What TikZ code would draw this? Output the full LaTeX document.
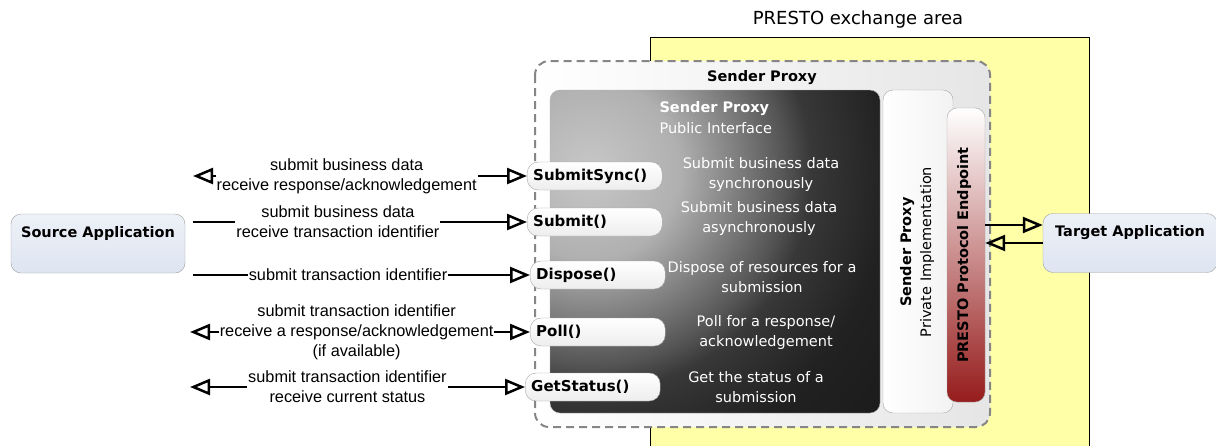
\documentclass[tikz,border=0pt]{standalone}
\usepackage{fontspec}
\setmainfont{DejaVu Sans}
\newfontfamily\arialfont{Liberation Sans}
\usetikzlibrary{arrows.meta,positioning}
\definecolor{exchyellow}{RGB}{255,255,168}
\definecolor{appblue}{RGB}{222,229,241}
\definecolor{endred}{RGB}{150,28,28}
\definecolor{endpink}{RGB}{238,208,208}
\pgfdeclareradialshading{panelglow}{\pgfpoint{0bp}{0bp}}{color(0bp)=(black!22);color(5.6bp)=(black!31);color(9.7bp)=(black!53);color(12.2bp)=(black!67);color(13.8bp)=(black!78);color(18.7bp)=(black!87);color(25.5bp)=(black!90);color(50bp)=(black!90)}
\begin{document}
\begin{tikzpicture}[x=1pt,y=-1pt,
  lbl/.style={font=\arialfont\fontsize{16.3}{20}\selectfont,fill=white,inner xsep=1pt,inner ysep=1pt,align=center},
  pill/.style={draw=gray!70,rounded corners=11pt,top color=white,bottom color=gray!14,minimum height=28pt,minimum width=135pt,text width=123pt,inner xsep=6pt,align=left,anchor=west,font=\bfseries\fontsize{15}{17}\selectfont},
  desc/.style={text=white,align=center,font=\fontsize{14.5}{20}\selectfont},
  appbox/.style={draw=gray!75,rounded corners=10pt,top color=appblue!55,bottom color=appblue,minimum width=174pt,minimum height=59pt,inner ysep=8pt,text height=15pt,text depth=28pt,font=\bfseries\fontsize{14.5}{17}\selectfont},
  conn/.style={line width=2.5pt,-{Triangle[open,length=20pt,width=16pt]}},
  both/.style={line width=2.5pt,{Triangle[open,length=20pt,width=16pt]}-{Triangle[open,length=20pt,width=16pt]}}]
\useasboundingbox (0,0) rectangle (1216,445);
\clip (0,0) rectangle (1216,445);
\fill[exchyellow] (650,37) rectangle (1089,450);
\draw (650,450) -- (650,37) -- (1089,37) -- (1089,450);
\node[font=\fontsize{18}{20}\selectfont] (area) at (858,20) {PRESTO exchange area};
\path[draw=gray!95,line width=2pt,dash pattern=on 8pt off 5pt,rounded corners=14pt,left color=white,right color=gray!20] (535,61) rectangle (990,427);
\node[font=\bfseries\fontsize{14.5}{17}\selectfont] (proxytitle) at (762,78) {Sender Proxy};
\begin{scope}
\clip[rounded corners=10pt] (550,90) rectangle (880,413);
\shade[shading=panelglow] (190,-230) rectangle (990,570);
\end{scope}
\draw[gray!60,rounded corners=10pt] (550,90) rectangle (880,413);
\node[text=white,align=left,anchor=west,font=\fontsize{14.5}{21}\selectfont] (pubhead) at (656,117.5) {\textbf{Sender Proxy}\\Public Interface};
\path[draw=gray!70,rounded corners=10pt,left color=white,right color=gray!10] (883,90) rectangle (953,413);
\node[rotate=90,align=center,font=\fontsize{14.5}{20}\selectfont] (privhead) at (917,252) {\textbf{Sender Proxy}\\Private Implementation};
\node[draw=gray!70,rounded corners=10pt,top color=white,middle color=endpink,bottom color=endred,minimum width=38pt,minimum height=294pt] (endpoint) at (966,255) {};
\node[rotate=90,font=\bfseries\fontsize{14.5}{17}\selectfont] (endtext) at (964,255) {PRESTO Protocol Endpoint};
\node[desc] (dssync) at (761,174) {Submit business data\\synchronously};
\node[desc] (dsubmit) at (759,218) {Submit business data\\asynchronously};
\node[desc] (ddispose) at (762,277) {Dispose of resources for a\\submission};
\node[desc] (dpoll) at (766,332) {Poll for a response/\\acknowledgement};
\node[desc] (dstatus) at (756,387) {Get the status of a\\submission};
\node[pill] (ssync) at (527,176) {SubmitSync()};
\node[pill] (submit) at (527,222) {Submit()};
\node[pill] (dispose) at (530,275) {Dispose()};
\node[pill] (poll) at (530,332) {Poll()};
\node[pill] (getstatus) at (525,387) {GetStatus()};
\node[appbox] (source) at (98,243.5) {Source Application};
\node[appbox] (target) at (1130,243) {Target Application};
\coordinate (l1) at (193,176);
\coordinate (l2) at (193,222);
\coordinate (l3) at (193,275);
\coordinate (l4) at (190,332);
\coordinate (l5) at (190,387);
\draw[both] (l1) -- node[lbl,pos=0.46] (t1) {submit business data\\receive response/acknowledgement} (ssync.west);
\draw[conn] (l2) -- node[lbl,pos=0.434] (t2) {submit business data\\receive transaction identifier} (submit.west);
\draw[conn] (l3) -- node[lbl,pos=0.46] (t3) {submit transaction identifier} (dispose.west);
\draw[both] (l4) -- node[lbl,pos=0.49] (t4) {submit transaction identifier\\receive a response/acknowledgement\\(if available)} (poll.west);
\draw[both] (l5) -- node[lbl,pos=0.47] (t5) {submit transaction identifier\\receive current status} (getstatus.west);
\draw[conn] ([yshift=30pt]endpoint.east) -- ([yshift=18pt]target.west);
\draw[conn] (target.west) -- ([yshift=12pt]endpoint.east);
\end{tikzpicture}
\end{document}
